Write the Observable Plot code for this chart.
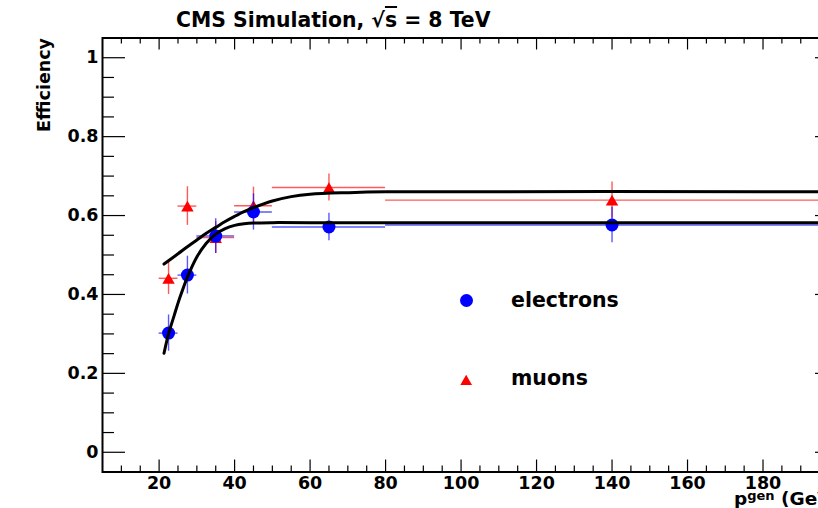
<!DOCTYPE html>
<html>
<head>
<meta charset="utf-8">
<script src="https://cdn.jsdelivr.net/npm/d3@7"></script>
<script src="https://cdn.jsdelivr.net/npm/@observablehq/plot@0.6"></script>
<style>
  html, body { margin: 0; padding: 0; background: #fff; width: 818px; height: 508px; overflow: hidden; }
  #wrap { position: relative; width: 818px; height: 508px; overflow: hidden; font-family: "DejaVu Sans", sans-serif; font-weight: bold; color: #000; }
  #title { position: absolute; left: 176px; top: 9.7px; font-size: 20.4px; line-height: 20.5px; white-space: nowrap; }
  #title .ov { text-decoration: overline; }
  #chart { position: absolute; left: 0; top: 32px; }
  #ytitle { position: absolute; left: 0; top: 0; width: 200px; text-align: right; font-size: 17.5px; line-height: 18px; white-space: nowrap; transform-origin: 0 0; transform: translate(35px, 238px) rotate(-90deg); }
  #xtitle { position: absolute; left: 734px; top: 492.6px; font-size: 18.5px; line-height: 12px; white-space: nowrap; }
  #xtitle .sup { font-size: 13px; position: relative; top: -5px; }
  .legtext { position: absolute; left: 511px; font-size: 20.5px; line-height: 20px; white-space: nowrap; }
  #legE { position: absolute; left: 459.5px; top: 294px; width: 13px; height: 13px; border-radius: 50%; background: #0000ff; }
  #legM { position: absolute; left: 460px; top: 374.7px; width: 12.3px; height: 10.7px; background: #ff0000; clip-path: polygon(50% 0, 100% 100%, 0 100%); }
</style>
</head>
<body>
<div id="wrap">
  <div id="title">CMS Simulation, √<span class="ov">s</span> = 8 TeV</div>
  <div id="chart"></div>
  <div id="ytitle">Efficiency</div>
  <div id="xtitle">p<span class="sup">gen</span> (GeV)</div>
  <div id="legE"></div>
  <div class="legtext" style="top:289.8px">electrons</div>
  <div id="legM"></div>
  <div class="legtext" style="top:367.6px">muons</div>
</div>
<script>
// ---- data ----
const ptBinCenter = [22.5, 27.5, 35, 45, 65, 140];
const ptBinLow    = [20, 25, 30, 40, 50, 80];
const ptBinHigh   = [25, 30, 40, 50, 80, 200];

const electronEff = [0.302, 0.449, 0.548, 0.609, 0.571, 0.576];
const electronErr = [0.046, 0.048, 0.044, 0.046, 0.035, 0.045];

const muonEff = [0.441, 0.624, 0.544, 0.625, 0.671, 0.639];
const muonErr = [0.041, 0.049, 0.040, 0.047, 0.034, 0.046];

// fit curves
const electronFitPt  = [21.3, 22.5, 24, 25.5, 27.5, 30, 32.5, 35, 37.5, 40, 42.5, 45, 50, 60, 200];
const electronFitEff = [0.251, 0.300, 0.347, 0.392, 0.444, 0.495, 0.530, 0.553, 0.567, 0.575, 0.579, 0.581, 0.582, 0.582, 0.582];

const muonFitPt  = [21.3, 25, 27.5, 30, 32.5, 35, 37.5, 40, 42.5, 45, 50, 55, 60, 70, 80, 200];
const muonFitEff = [0.477, 0.503, 0.521, 0.538, 0.555, 0.570, 0.585, 0.598, 0.610, 0.620, 0.637, 0.648, 0.654, 0.658, 0.660, 0.660];

// axis ticks
const xMajorTicks = [20, 40, 60, 80, 100, 120, 140, 160, 180, 200];
const xLabelTicks = [20, 40, 60, 80, 100, 120, 140, 160, 180];
const yMajorTicks = [0, 0.2, 0.4, 0.6, 0.8, 1];
const xMinorTicks = d3.range(10, 200, 5).filter(v => v % 20 !== 0);
const yMinorTicks = d3.range(1, 20).map(v => v / 20).filter(v => Math.round(v * 20) % 4 !== 0);

// ---- tables ----
const toRows = (eff, err) => ptBinCenter.map((x, i) => ({
  x, lo: ptBinLow[i], hi: ptBinHigh[i], y: eff[i], y1: eff[i] - err[i], y2: eff[i] + err[i]
}));
const electrons = toRows(electronEff, electronErr);
const muons = toRows(muonEff, muonErr);
const electronFit = electronFitPt.map((x, i) => ({x, y: electronFitEff[i]}));
const muonFit = muonFitPt.map((x, i) => ({x, y: muonFitEff[i]}));

const W = 860, H = 476;
const mL = 102, mR = 22, mT = 5.5, mB = 36.5;
const frameW = W - mL - mR, frameH = H - mT - mB;

const chart = Plot.plot({
  width: W, height: H,
  marginLeft: mL, marginRight: mR, marginTop: mT, marginBottom: mB,
  x: {domain: [5, 200]},
  y: {domain: [-0.05, 1.05]},
  style: {fontFamily: "DejaVu Sans", fontWeight: "bold", fontSize: "17.5px", color: "black", background: "white", maxWidth: "none", overflow: "visible"},
  marks: [
    // tick labels
    Plot.axisY(yMajorTicks, {anchor: "left", tickSize: 0, tickPadding: 4, tickFormat: d => String(d), label: null}),
    Plot.axisX(xLabelTicks, {anchor: "bottom", tickSize: 0, tickPadding: 5, tickFormat: d => String(d), label: null}),
    // inward ticks: left/right
    Plot.tickY(yMajorTicks, {insetRight: frameW - 23, stroke: "black", strokeWidth: 1.2}),
    Plot.tickY(yMinorTicks, {insetRight: frameW - 12, stroke: "black", strokeWidth: 1.2}),
    Plot.tickY(yMajorTicks, {insetLeft: frameW - 23, stroke: "black", strokeWidth: 1.2}),
    Plot.tickY(yMinorTicks, {insetLeft: frameW - 12, stroke: "black", strokeWidth: 1.2}),
    // inward ticks: bottom/top
    Plot.tickX(xMajorTicks, {insetTop: frameH - 12, stroke: "black", strokeWidth: 1.2}),
    Plot.tickX(xMinorTicks, {insetTop: frameH - 6, stroke: "black", strokeWidth: 1.2}),
    Plot.tickX(xMajorTicks, {insetBottom: frameH - 12, stroke: "black", strokeWidth: 1.2}),
    Plot.tickX(xMinorTicks, {insetBottom: frameH - 6, stroke: "black", strokeWidth: 1.2}),
    // muon error bars and markers
    Plot.ruleY(muons, {y: "y", x1: "lo", x2: "hi", stroke: "#ff0000", strokeOpacity: 0.65, strokeWidth: 1.4}),
    Plot.ruleX(muons, {x: "x", y1: "y1", y2: "y2", stroke: "#ff0000", strokeOpacity: 0.65, strokeWidth: 1.4}),
    Plot.dot(muons, {x: "x", y: "y", symbol: "triangle", r: 4.6, fill: "#ff0000", stroke: "none", dy: 1.8}),
    // electron error bars and markers
    Plot.ruleY(electrons, {y: "y", x1: "lo", x2: "hi", stroke: "#0000ff", strokeOpacity: 0.65, strokeWidth: 1.4}),
    Plot.ruleX(electrons, {x: "x", y1: "y1", y2: "y2", stroke: "#0000ff", strokeOpacity: 0.65, strokeWidth: 1.4}),
    Plot.dot(electrons, {x: "x", y: "y", symbol: "circle", r: 6.5, fill: "#0000ff", stroke: "none"}),
    // fit curves
    Plot.line(muonFit, {x: "x", y: "y", stroke: "black", strokeWidth: 3, curve: "catmull-rom"}),
    Plot.line(electronFit, {x: "x", y: "y", stroke: "black", strokeWidth: 3, curve: "catmull-rom"}),
    Plot.frame({stroke: "black", strokeWidth: 2})
  ]
});
document.getElementById("chart").appendChild(chart);
</script>
</body>
</html>
